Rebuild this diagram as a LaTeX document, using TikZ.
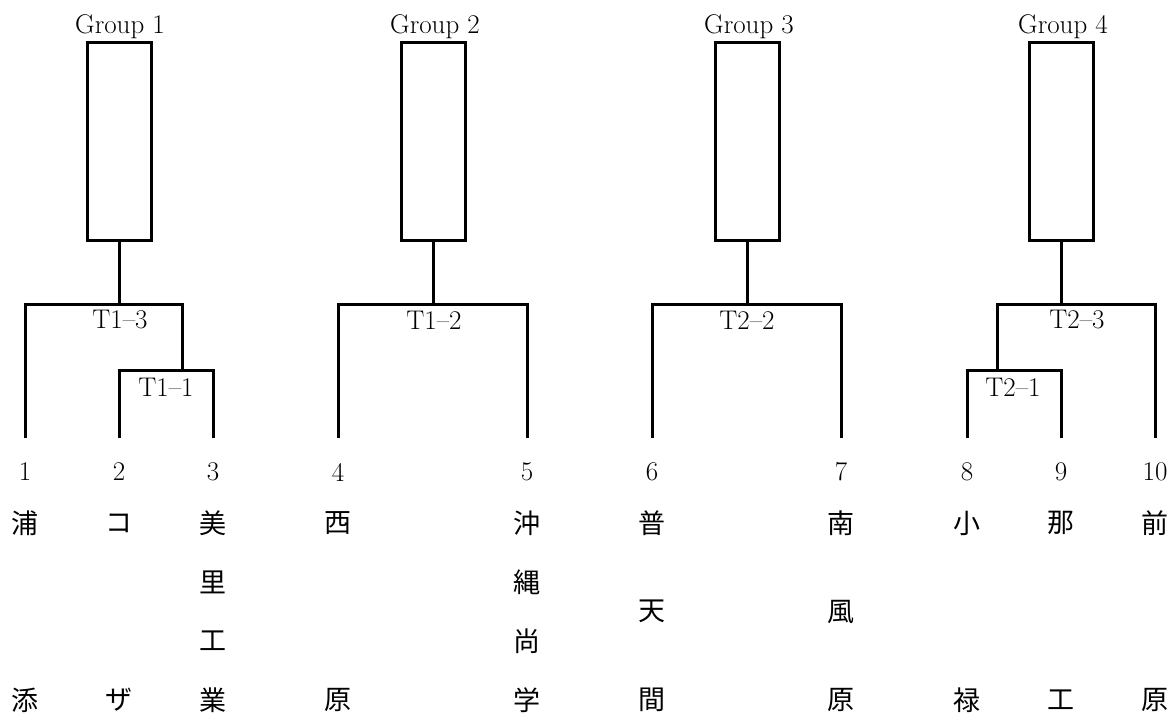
\documentclass[tikz,border=0pt]{standalone}
\usepackage{fontspec}
\newfontfamily\jp{Noto Sans CJK JP}
\begin{document}
\begin{tikzpicture}[x=1pt,y=1pt,
  line width=3pt,
  grpbox/.style={draw,line width=3pt,minimum width=64pt,minimum height=198pt,inner sep=0pt},
  grplabel/.style={font=\fontsize{27}{30}\selectfont,inner sep=0pt,anchor=base},
  tlabel/.style={font=\fontsize{27}{30}\selectfont,inner sep=0pt},
  numlabel/.style={font=\fontsize{27}{30}\selectfont,inner sep=0pt},
  kanji/.style={font=\jp\fontsize{27}{30}\selectfont,inner sep=0pt},
  bracket/.style={line width=3pt,line join=miter}]
\useasboundingbox (0,0) rectangle (1174,-715);

% group boxes
\node[grpbox] (g1box) at (119,-141) {};
\node[grpbox] (g2box) at (433,-141) {};
\node[grpbox] (g3box) at (747,-141) {};
\node[grpbox] (g4box) at (1061,-141) {};
\node[grplabel] (g1lab) at (120,-33) {Group 1};
\node[grplabel] (g2lab) at (435,-33) {Group 2};
\node[grplabel] (g3lab) at (749,-33) {Group 3};
\node[grplabel] (g4lab) at (1063,-33) {Group 4};

% leaf tops
\coordinate (l1) at (25,-438);
\coordinate (l2) at (119,-438);
\coordinate (l3) at (213,-438);
\coordinate (l4) at (338,-438);
\coordinate (l5) at (527,-438);
\coordinate (l6) at (652,-438);
\coordinate (l7) at (841,-438);
\coordinate (l8) at (967,-438);
\coordinate (l9) at (1061,-438);
\coordinate (l10) at (1155,-438);

% junctions
\coordinate (j11) at (182,-370);
\coordinate (j13) at (119,-304);
\coordinate (j12) at (433,-304);
\coordinate (j22) at (747,-304);
\coordinate (j21) at (997,-370);
\coordinate (j23) at (1061,-304);

% group 1
\draw[bracket] (l2) |- (j11) -| (l3);
\draw[bracket] (l1) |- (j13) -| (j11);
\draw[bracket] (j13) -- (g1box.south);
% group 2
\draw[bracket] (l4) |- (j12) -| (l5);
\draw[bracket] (j12) -- (g2box.south);
% group 3
\draw[bracket] (l6) |- (j22) -| (l7);
\draw[bracket] (j22) -- (g3box.south);
% group 4
\draw[bracket] (l8) |- (j21) -| (l9);
\draw[bracket] (j21) |- (j23) -| (l10);
\draw[bracket] (j23) -- (g4box.south);

% match labels
\node[tlabel] (t13) at (120,-320) {T1--3};
\node[tlabel] (t11) at (166,-387) {T1--1};
\node[tlabel] (t12) at (434,-320) {T1--2};
\node[tlabel] (t22) at (747,-320) {T2--2};
\node[tlabel] (t23) at (1077,-320) {T2--3};
\node[tlabel] (t21) at (1013,-387) {T2--1};

% numbers
\node[numlabel] (n1) at (25,-472) {1};
\node[numlabel] (n2) at (119,-472) {2};
\node[numlabel] (n3) at (213,-472) {3};
\node[numlabel] (n4) at (338,-472) {4};
\node[numlabel] (n5) at (527,-472) {5};
\node[numlabel] (n6) at (652,-472) {6};
\node[numlabel] (n7) at (841,-472) {7};
\node[numlabel] (n8) at (967,-472) {8};
\node[numlabel] (n9) at (1061,-472) {9};
\node[numlabel] (n10) at (1155,-472) {10};

% names
\node[kanji] (k1a) at (25,-523) {浦};
\node[kanji] (k1b) at (25,-700) {添};
\node[kanji] (k2a) at (119,-523) {コ};
\node[kanji] (k2b) at (119,-700) {ザ};
\node[kanji] (k3a) at (213,-523) {美};
\node[kanji] (k3b) at (213,-582) {里};
\node[kanji] (k3c) at (213,-641) {工};
\node[kanji] (k3d) at (213,-700) {業};
\node[kanji] (k4a) at (338,-523) {西};
\node[kanji] (k4b) at (338,-700) {原};
\node[kanji] (k5a) at (527,-523) {沖};
\node[kanji] (k5b) at (527,-582) {縄};
\node[kanji] (k5c) at (527,-641) {尚};
\node[kanji] (k5d) at (527,-700) {学};
\node[kanji] (k6a) at (652,-523) {普};
\node[kanji] (k6b) at (652,-611.5) {天};
\node[kanji] (k6c) at (652,-700) {間};
\node[kanji] (k7a) at (841,-523) {南};
\node[kanji] (k7b) at (841,-611.5) {風};
\node[kanji] (k7c) at (841,-700) {原};
\node[kanji] (k8a) at (967,-523) {小};
\node[kanji] (k8b) at (967,-700) {禄};
\node[kanji] (k9a) at (1061,-523) {那};
\node[kanji] (k9b) at (1061,-700) {工};
\node[kanji] (k10a) at (1155,-523) {前};
\node[kanji] (k10b) at (1155,-700) {原};
\end{tikzpicture}
\end{document}
